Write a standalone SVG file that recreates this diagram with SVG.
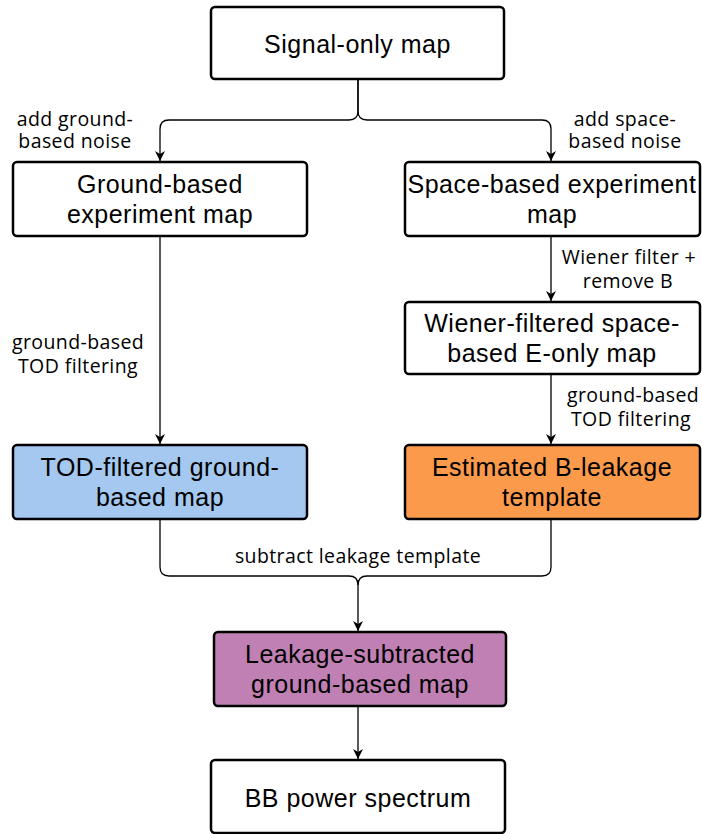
<svg xmlns="http://www.w3.org/2000/svg" width="702" height="834" viewBox="0 0 702 834">
<style>
.box{stroke:#000;stroke-width:2.5}
.nt{font-family:"Liberation Sans",Arial,sans-serif;font-size:25px;letter-spacing:0.5px;fill:#000;text-anchor:middle}
.et{font-family:"Open Sans",sans-serif;font-size:19.5px;letter-spacing:0.4px;fill:#000;text-anchor:middle}
.c{fill:none;stroke:#000;stroke-width:1.3}
</style>
<defs>
<marker id="ah" viewBox="0 0 10 10" refX="10" refY="5" markerWidth="10" markerHeight="10" markerUnits="userSpaceOnUse" orient="auto">
<path d="M0,0 L10,5 L0,10 L3,5 Z" fill="#000"/>
</marker>
</defs>
<rect width="702" height="834" fill="#fff"/>
<g id="connectors">
<path class="c" d="M358,79 V111 Q358,120 349,120 H169 Q160,120 160,129 V161" marker-end="url(#ah)"/>
<path class="c" d="M358,79 V111 Q358,120 367,120 H542 Q551,120 551,129 V161" marker-end="url(#ah)"/>
<path class="c" d="M551,236 V301" marker-end="url(#ah)"/>
<path class="c" d="M160,236 V444" marker-end="url(#ah)"/>
<path class="c" d="M551,374 V444" marker-end="url(#ah)"/>
<path class="c" d="M160,519 V567 Q160,576 169,576 H349 Q358,576 358,585 V631" marker-end="url(#ah)"/>
<path class="c" d="M551,519 V567 Q551,576 542,576 H367 Q358,576 358,585"/>
<path class="c" d="M358,706 V759" marker-end="url(#ah)"/>
<text class="et"><tspan x="75" y="126">add ground-</tspan><tspan x="75" y="148">based noise</tspan></text>
<text class="et"><tspan x="625" y="126">add space-</tspan><tspan x="625" y="148">based noise</tspan></text>
<text class="et"><tspan x="629" y="264">Wiener filter +</tspan><tspan x="628" y="288">remove B</tspan></text>
<text class="et"><tspan x="78" y="349">ground-based</tspan><tspan x="78" y="373">TOD filtering</tspan></text>
<text class="et"><tspan x="633" y="402">ground-based</tspan><tspan x="631" y="426">TOD filtering</tspan></text>
<text class="et" x="358" y="563">subtract leakage template</text>
</g>
<g id="n1"><rect class="box" x="211" y="7" width="293" height="72" rx="4" fill="#fff"/><text class="nt" x="357.5" y="53">Signal-only map</text></g>
<g id="n2"><rect class="box" x="13" y="162" width="294" height="74" rx="4" fill="#fff"/><text class="nt"><tspan x="160" y="193">Ground-based</tspan><tspan x="160" y="223">experiment map</tspan></text></g>
<g id="n3"><rect class="box" x="405" y="162" width="295" height="74" rx="4" fill="#fff"/><text class="nt"><tspan x="552" y="193">Space-based experiment</tspan><tspan x="552" y="223">map</tspan></text></g>
<g id="n4"><rect class="box" x="405" y="302" width="295" height="72" rx="4" fill="#fff"/><text class="nt"><tspan x="552" y="332">Wiener-filtered space-</tspan><tspan x="552" y="362">based E-only map</tspan></text></g>
<g id="n5"><rect class="box" x="13" y="445" width="294" height="74" rx="4" fill="#a4c8f0"/><text class="nt"><tspan x="160" y="476">TOD-filtered ground-</tspan><tspan x="160" y="506">based map</tspan></text></g>
<g id="n6"><rect class="box" x="405" y="445" width="295" height="74" rx="4" fill="#fb9a4a"/><text class="nt"><tspan x="552" y="476">Estimated B-leakage</tspan><tspan x="552" y="506">template</tspan></text></g>
<g id="n7"><rect class="box" x="214" y="632" width="292" height="74" rx="4" fill="#c080b4"/><text class="nt"><tspan x="360" y="663">Leakage-subtracted</tspan><tspan x="360" y="693">ground-based map</tspan></text></g>
<g id="n8"><rect class="box" x="211" y="760" width="294" height="73" rx="4" fill="#fff"/><text class="nt" x="358" y="807">BB power spectrum</text></g>
</svg>
